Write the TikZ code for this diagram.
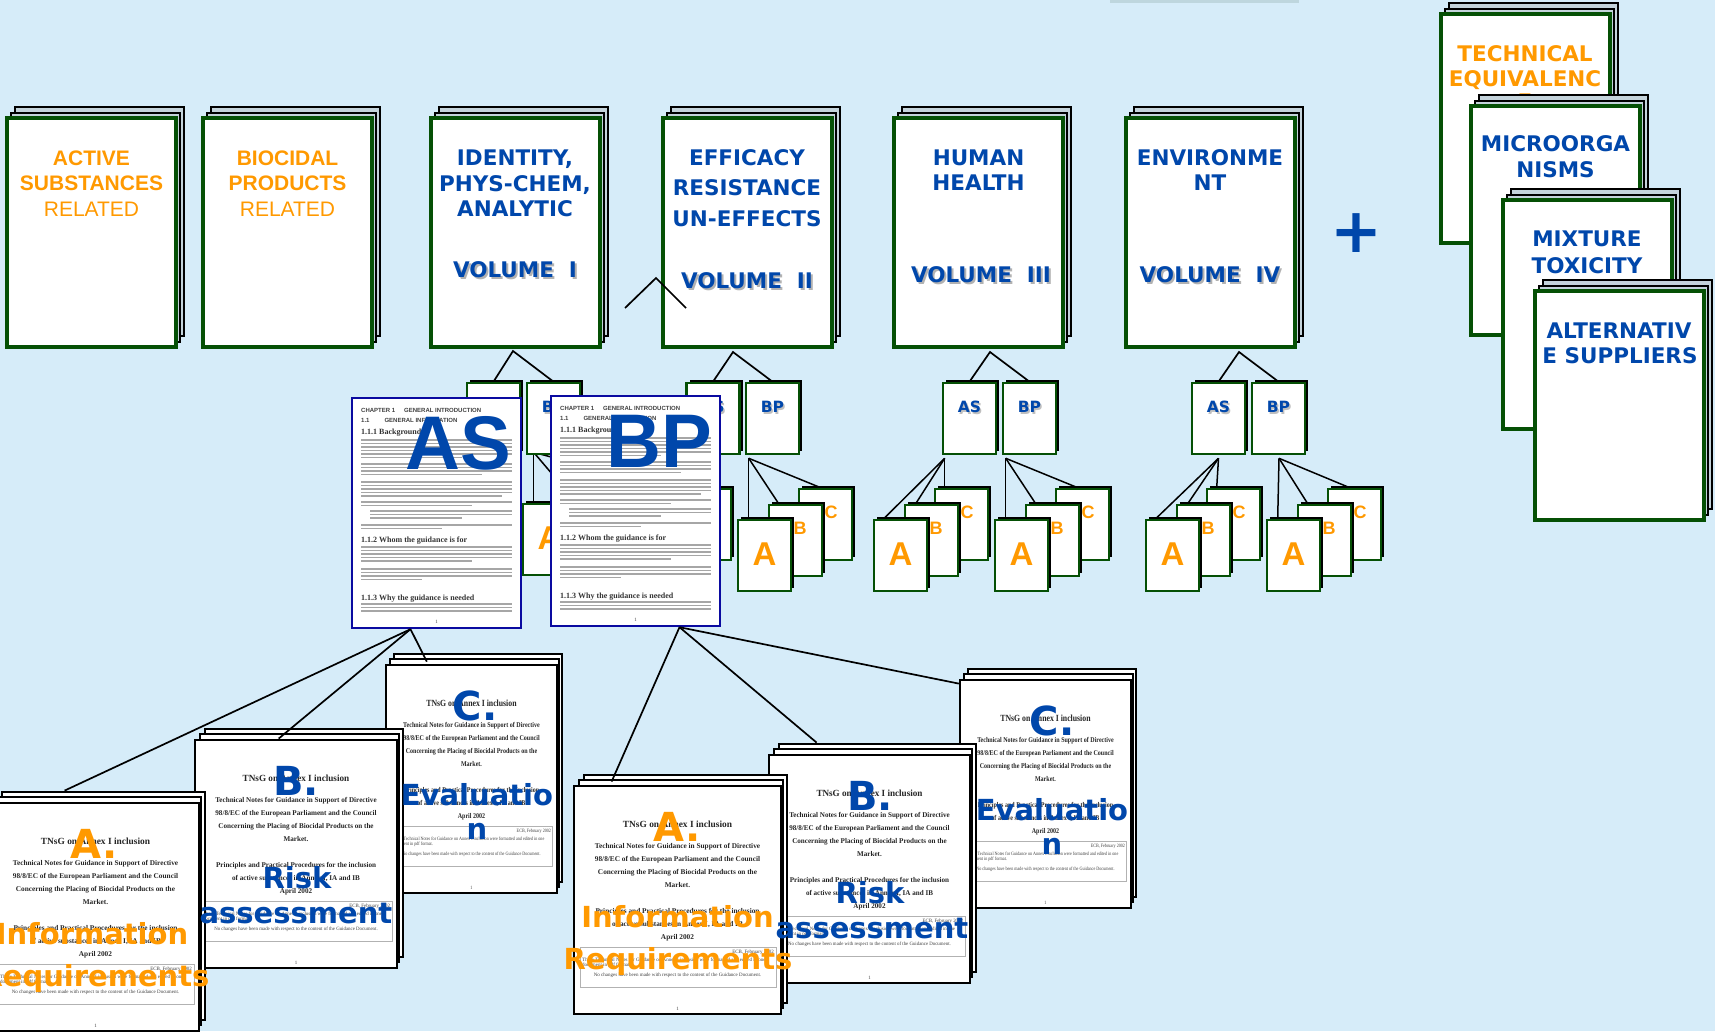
\documentclass[tikz,border=0pt]{standalone}
\usepackage{fontspec}
\setmainfont{Liberation Serif}
\newfontfamily\arialf{Liberation Sans}
\newfontfamily\verdf{DejaVu Sans}
\usetikzlibrary{shadows}
\definecolor{bgc}{RGB}{214,236,249}
\definecolor{dgreen}{RGB}{5,80,5}
\definecolor{pgback}{RGB}{196,211,219}
\definecolor{myblue}{RGB}{0,71,171}
\definecolor{myorange}{RGB}{255,153,0}
\definecolor{docblue}{RGB}{10,10,160}
\definecolor{topbar}{RGB}{190,214,222}
\pgfdeclarelayer{backlayer}
\pgfdeclarelayer{connlayer}
\pgfsetlayers{backlayer,connlayer,main}
\tikzset{
  backpg/.style={draw=black, line width=1.6pt, fill=pgback},
  frontbox/.style={draw=dgreen, line width=3.2pt, fill=white, minimum width=169pt, minimum height=229pt, inner sep=0pt, outer sep=0pt},
  smallbox/.style={draw=dgreen, line width=2.6pt, fill=white, minimum width=53pt, minimum height=71pt, inner sep=0pt, general shadow={fill=black, shadow xshift=3pt, shadow yshift=3pt}},
  conn/.style={draw=black, line width=1.7pt},
  fan/.style={draw=black, line width=1.5pt},
  atxt/.style={font=\arialf\bfseries\fontsize{21}{24}\selectfont, text=myorange, anchor=base, inner sep=0pt},
  atxtn/.style={font=\arialf\fontsize{21}{24}\selectfont, text=myorange, anchor=base, inner sep=0pt},
  vtxt/.style={font=\verdf\bfseries\fontsize{21.5}{24}\selectfont, text=myblue, anchor=base, inner sep=0pt},
  vtxto/.style={vtxt, text=myorange},
  vshad/.style={vtxt, text=black!30},
  slbl/.style={font=\verdf\bfseries\fontsize{15.5}{18}\selectfont, text=myblue, anchor=base, inner sep=0pt},
  slshad/.style={slbl, text=black!25},
  albl/.style={font=\arialf\bfseries\fontsize{33}{36}\selectfont, text=myorange, anchor=base, inner sep=0pt},
  bclbl/.style={font=\arialf\bfseries\fontsize{18}{20}\selectfont, text=myorange, anchor=base, inner sep=0pt},
  bluepg/.style={draw=docblue, line width=2.4pt, fill=white, minimum width=169pt, minimum height=230pt, inner sep=0pt},
  hdA/.style={font=\arialf\bfseries\fontsize{6}{7}\selectfont, text=black!75, anchor=base west, inner sep=0pt},
  hdB/.style={font=\bfseries\fontsize{8}{9}\selectfont, text=black!80, anchor=base west, inner sep=0pt},
  gline/.style={draw=black!35, line width=1.1pt},
  bpage/.style={draw=black, line width=1.9pt, fill=white},
  bfront/.style={draw=black, line width=2.8pt, fill=white, minimum width=207pt, minimum height=228pt, inner sep=0pt, transform shape},
  dtx/.style={font=\bfseries\fontsize{7.3}{8}\selectfont, text=black!85, anchor=base, inner sep=0pt, transform shape},
  dtiny/.style={font=\fontsize{5}{6}\selectfont, text=black!75, anchor=base, inner sep=0pt, transform shape},
  ibox/.style={draw=black!30, line width=1pt},
  biglbl/.style={font=\arialf\bfseries\fontsize{76}{80}\selectfont, text=myblue, anchor=base, inner sep=0pt},
  tagl/.style={font=\verdf\bfseries\fontsize{40}{44}\selectfont, anchor=base, inner sep=0pt},
  ovl/.style={font=\verdf\bfseries\fontsize{29}{32}\selectfont, anchor=base, inner sep=0pt},
}
% stacked cover: name, left, top
\newcommand\volstack[3]{%
  \draw[backpg] ({#2+8},{#3-11}) rectangle ++(169,229);
  \draw[backpg] ({#2+4},{#3-5}) rectangle ++(169,229);
  \node[frontbox] (#1) at ({#2+84.5},{#3+114.5}) {};
}
% A/B/C group: name, left of A, top of A
\newcommand\abcgroup[3]{%
  \node[smallbox] (#1C) at ({#2+87.5},{#3+4.5}) {};
  \node[smallbox] (#1B) at ({#2+57.5},{#3+20.5}) {};
  \node[smallbox] (#1A) at ({#2+26.5},{#3+35.5}) {};
  \node[bclbl] (#1Cl) at ({#2+93},{#3-1.5}) {C};
  \node[bclbl] (#1Bl) at ({#2+62},{#3+14.5}) {B};
  \node[albl] (#1Al) at ({#2+26.5},{#3+45.8}) {A};
}
% blue chapter page: name, left, top
\newcommand\bluedoc[3]{%
\begin{scope}[shift={(#2,#3)}]
  \node[bluepg] (#1) at (84.5,115) {};
  \node[hdA] (#1-h1) at (9,14.2) {CHAPTER 1\hspace{1.5em}GENERAL INTRODUCTION};
  \node[hdA] (#1-h2) at (9,24.2) {1.1\hspace{2.5em}GENERAL INFORMATION};
  \node[hdB] (#1-h3) at (9,36) {1.1.1 Background};
  \node[hdB] (#1-h4) at (9,144) {1.1.2 Whom the guidance is for};
  \node[hdB] (#1-h5) at (9,202) {1.1.3 Why the guidance is needed};
  \foreach \yy/\xe in {42/160,45.5/160,49/160,52.5/160,56/160,59.5/110,66/160,69.5/160,73/160,76.5/130,84/160,87.5/160,91/160,94.5/160,98/150,104/160,107.5/120,127/160,130.5/90,149/160,152.5/160,156/160,159.5/160,163/120,171/160,174.5/160,178/160,181.5/70,206/160,209.5/160,213/160}
    \draw[gline] (9,\yy) -- (\xe,\yy);
  \foreach \yy/\xe in {113/160,116.5/160,120/110}
    \draw[gline] (18,\yy) -- (\xe,\yy);
  \node[dtiny] (#1-pg) at (84.5,225) {1};
\end{scope}}
% title page stack: name, left, top, xscale
\newcommand\bdoc[4]{%
\begin{scope}[shift={(#2,#3)}, xscale=#4]
  \draw[bpage] (10,-11) rectangle (213,217);
  \draw[bpage] (5,-6) rectangle (209,222);
  \node[bfront] (#1) at (103.5,114) {};
  \node[dtx, font=\bfseries\fontsize{9.4}{10}\selectfont] (#1-t0) at (103.5,41.3) {TNsG on Annex I inclusion};
  \node[dtx] (#1-t1) at (103.5,62.5) {Technical Notes for Guidance in Support of Directive};
  \node[dtx] (#1-t2) at (103.5,75.5) {98/8/EC of the European Parliament and the Council};
  \node[dtx] (#1-t3) at (103.5,88.5) {Concerning the Placing of Biocidal Products on the};
  \node[dtx] (#1-t4) at (103.5,101.5) {Market.};
  \node[dtx] (#1-t5) at (103.5,127.5) {Principles and Practical Procedures for the inclusion};
  \node[dtx] (#1-t6) at (103.5,140.5) {of active substances in Annex I, IA and IB};
  \node[dtx] (#1-t7) at (103.5,153.5) {April 2002};
  \draw[ibox] (6,161) rectangle (202,201);
  \node[dtiny, anchor=base east] (#1-t8) at (200,167) {ECB, February 2002};
  \node[dtiny, anchor=base west] (#1-t9) at (8,175) {These Technical Notes for Guidance on Annex I inclusion were formatted and edited in one};
  \node[dtiny, anchor=base west] (#1-t10) at (8,180.5) {document in pdf format.};
  \node[dtiny] (#1-t11) at (103.5,190) {No changes have been made with respect to the content of the Guidance Document.};
  \node[dtiny] (#1-t12) at (103.5,224) {1};
\end{scope}}

\begin{document}
\begin{tikzpicture}[x=1pt,y=-1pt]
\useasboundingbox (0,0) rectangle (1715,1031);
\begin{pgfonlayer}{backlayer}
\fill[bgc] (0,0) rectangle (1715,1031);
\fill[topbar] (1110,0) rectangle (1299,3);
\end{pgfonlayer}

% ---- top covers
\volstack{vas}{7}{118}
\node[atxt] (vas1) at (91.5,165.5) {ACTIVE};
\node[atxt] (vas2) at (91.5,190.5) {SUBSTANCES};
\node[atxtn] (vas3) at (91.5,216.5) {RELATED};
\volstack{vbp}{203}{118}
\node[atxt] (vbp1) at (287.5,165.5) {BIOCIDAL};
\node[atxt] (vbp2) at (287.5,190.5) {PRODUCTS};
\node[atxtn] (vbp3) at (287.5,216.5) {RELATED};
\volstack{v1}{431}{118}
\node[vtxt] (v1a) at (515,165.8) {IDENTITY,};
\node[vtxt] (v1b) at (515,191.8) {PHYS-CHEM,};
\node[vtxt] (v1c) at (515,216.8) {ANALYTIC};
\node[vshad] (v1s) at (517,279.8) {VOLUME~~I};
\node[vtxt] (v1d) at (515,277.8) {VOLUME~~I};
\volstack{v2}{663}{118}
\node[vtxt] (v2a) at (747,165.8) {EFFICACY};
\node[vtxt] (v2b) at (747,195.8) {RESISTANCE};
\node[vtxt] (v2c) at (747,226.8) {UN-EFFECTS};
\node[vshad] (v2s) at (749,290.8) {VOLUME~~II};
\node[vtxt] (v2d) at (747,288.8) {VOLUME~~II};
\volstack{v3}{894}{118}
\node[vtxt] (v3a) at (978.5,165.8) {HUMAN};
\node[vtxt] (v3b) at (978.5,190.8) {HEALTH};
\node[vshad] (v3s) at (983,284.8) {VOLUME~~III};
\node[vtxt] (v3d) at (981,282.8) {VOLUME~~III};
\volstack{v4}{1126}{118}
\node[vtxt] (v4a) at (1210,165.8) {ENVIRONME};
\node[vtxt] (v4b) at (1210,190.8) {NT};
\node[vshad] (v4s) at (1212,284.8) {VOLUME~~IV};
\node[vtxt] (v4d) at (1210,282.8) {VOLUME~~IV};

\node[font=\verdf\bfseries\fontsize{62}{62}\selectfont, text=myblue, inner sep=0pt] (plus) at (1356,233) {+};

% ---- right stacks
\volstack{tq}{1441}{14}
\node[vtxto] (tq1) at (1525,61.8) {TECHNICAL};
\node[vtxto] (tq2) at (1525,86.8) {EQUIVALENC};
\node[vtxto] (tq3) at (1525,109.8) {E};
\volstack{mo}{1471}{106}
\node[vtxt] (mo1) at (1555.5,151.8) {MICROORGA};
\node[vtxt] (mo2) at (1555.5,177.8) {NISMS};
\volstack{mx}{1503}{200}
\node[vtxt] (mx1) at (1587,246.8) {MIXTURE};
\node[vtxt] (mx2) at (1587,273.8) {TOXICITY};
\volstack{al}{1535}{291}
\node[vtxt] (al1) at (1619,338.8) {ALTERNATIV};
\node[vtxt] (al2) at (1620,363.8) {E SUPPLIERS};

% ---- small AS / BP covers
\node[smallbox] (as1) at (493.5,418.5) {};
\node[smallbox] (bp1) at (553.5,418.5) {};
\node[smallbox] (as2) at (713,418.5) {};
\node[smallbox] (bp2) at (772.5,418.5) {};
\node[smallbox] (as3) at (969.5,418.5) {};
\node[smallbox] (bp3) at (1029.5,418.5) {};
\node[smallbox] (as4) at (1218.5,418.5) {};
\node[smallbox] (bp4) at (1278.5,418.5) {};
\foreach \n/\xx in {as1/493.5,as2/713,as3/969.5,as4/1218.5}{
  \node[slshad] (\n s) at (\xx+1.5,414.1) {AS};
  \node[slbl] (\n l) at (\xx,412.6) {AS};}
\foreach \n/\xx in {bp1/553.5,bp2/772.5,bp3/1029.5,bp4/1278.5}{
  \node[slshad] (\n s) at (\xx+1.5,414.1) {BP};
  \node[slbl] (\n l) at (\xx,412.6) {BP};}

% ---- A/B/C groups
\abcgroup{gbp1}{523}{504}
\abcgroup{gas2}{617}{520}
\abcgroup{gbp2}{738}{520}
\abcgroup{gas3}{874}{520}
\abcgroup{gbp3}{995}{520}
\abcgroup{gas4}{1146}{520}
\abcgroup{gbp4}{1267}{520}

% ---- connectors behind the boxes
\coordinate (ap1) at (513,351);
\coordinate (ap2) at (733,352);
\coordinate (ap3) at (990,352);
\coordinate (ap4) at (1239,352);
\coordinate (fbp1) at ([xshift=8pt,yshift=3pt]bp1.south west);
\coordinate (fas2) at ([xshift=3pt,yshift=-3pt]as2.south west);
\coordinate (fbp2) at ([xshift=4pt,yshift=-3pt]bp2.south west);
\coordinate (fas3) at ([xshift=3pt,yshift=-3pt]as3.south west);
\coordinate (fbp3) at ([xshift=4pt,yshift=-3pt]bp3.south west);
\coordinate (fas4) at ([yshift=-3pt]as4.south);
\coordinate (fbp4) at ([xshift=0.5pt,yshift=-3pt]bp4.south);
\begin{pgfonlayer}{connlayer}
\draw[conn] (as1.north) -- (ap1) -- (bp1.north);
\draw[conn] (as2.north) -- (ap2) -- (bp2.north);
\draw[conn] (as3.north) -- (ap3) -- (bp3.north);
\draw[conn] (as4.north) -- (ap4) -- (bp4.north);
\foreach \g in {bp1,bp2,bp3,bp4}{
  \draw[fan] (f\g) -- ([xshift=12pt]g\g A.north west);
  \draw[fan] (f\g) -- ([xshift=11pt]g\g B.north west);
  \draw[fan] (f\g) -- ([xshift=23pt]g\g C.north west);}
\foreach \g in {as2,as3,as4}{
  \draw[fan] (f\g) -- ([xshift=11pt]g\g A.north west);
  \draw[fan] (f\g) -- ([xshift=12pt]g\g B.north west);
  \draw[fan] (f\g) -- ([xshift=11pt]g\g C.north west);}
\end{pgfonlayer}

% stray connector between volume I and II
\coordinate (stA) at (625,308);
\coordinate (stB) at (656,278);
\coordinate (stC) at (686,308);
\draw[conn] (stA) -- (stB) -- (stC);

% ---- AS / BP chapter pages
\bluedoc{asdoc}{352}{398}
\bluedoc{bpdoc}{551}{396}
\node[biglbl] (asbig) at (458,469) {AS};
\node[biglbl] (bpbig) at (659,467) {BP};

% ---- bottom title pages
\bdoc{ldC}{386}{665}{0.826}
\bdoc{rdC}{960}{680}{0.826}
\bdoc{ldB}{195}{740}{0.976}
\bdoc{mdB}{769}{755}{0.971}
\bdoc{ldA}{-8}{803}{1}
\bdoc{mdA}{574}{786}{1}

\coordinate (asbot) at ([xshift=-26pt]asdoc.south);
\coordinate (bpbot) at ([xshift=44pt]bpdoc.south);
\draw[conn] (asbot) -- ([xshift=74pt,yshift=11pt]ldA.north west);
\draw[conn] (asbot) -- ([xshift=85pt]ldB.north west);
\draw[conn] (asbot) -- ([xshift=42pt,yshift=2pt]ldC.north west);
\draw[conn] (bpbot) -- ([xshift=39pt,yshift=3pt]mdA.north west);
\draw[conn] (bpbot) -- ([xshift=49pt,yshift=11pt]mdB.north west);
\draw[conn] (bpbot) -- ([yshift=-5pt]rdC.north west);

% ---- overlay titles
\node[tagl, text=myorange] (ldAa) at (94,858.6) {A.};
\node[ovl, text=myorange] (ldAi) at (92,944) {Information};
\node[ovl, text=myorange] (ldAr) at (95,986) {Requirements};
\node[tagl, text=myorange] (mdAa) at (677,841.6) {A.};
\node[ovl, text=myorange] (mdAi) at (677.5,927) {Information};
\node[ovl, text=myorange] (mdAr) at (678,969) {Requirements};
\node[tagl, text=myblue] (ldBb) at (296,795) {B.};
\node[ovl, text=myblue] (ldBr) at (297,888) {Risk};
\node[ovl, text=myblue] (ldBs) at (296,923) {assessment};
\node[tagl, text=myblue] (mdBb) at (870,810) {B.};
\node[ovl, text=myblue] (mdBr) at (870,903) {Risk};
\node[ovl, text=myblue] (mdBs) at (872,938) {assessment};
\node[tagl, text=myblue] (ldCc) at (475,720) {C.};
\node[ovl, text=myblue] (ldCe) at (477,805) {Evaluatio};
\node[ovl, text=myblue] (ldCn) at (477,839) {n};
\node[tagl, text=myblue] (rdCc) at (1052,735) {C.};
\node[ovl, text=myblue] (rdCe) at (1052,820) {Evaluatio};
\node[ovl, text=myblue] (rdCn) at (1052,854) {n};
\end{tikzpicture}
\end{document}
